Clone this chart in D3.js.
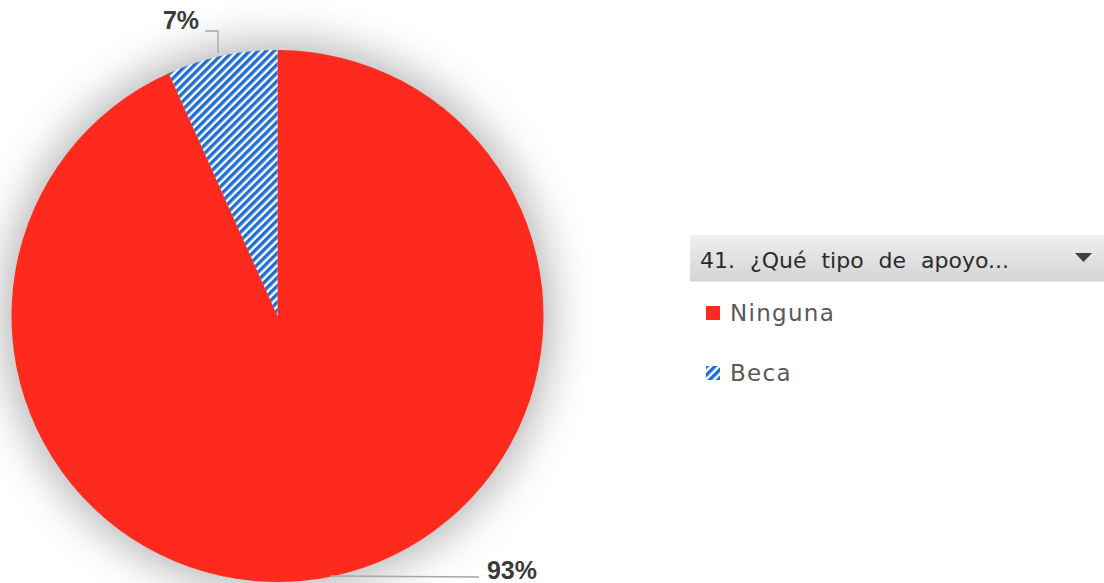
<!DOCTYPE html>
<html><head><meta charset="utf-8">
<script src="https://cdn.jsdelivr.net/npm/d3@7"></script>
<style>body{margin:0;background:#fff}svg{display:block}</style>
</head><body>
<script>
const categories = ["Ninguna", "Beca"];
const values = [93.3, 6.7];
const labels = ["93%", "7%"];
const legendTitle = "41. ¿Qué tipo de apoyo...";

const W = 1104, H = 583;
const svg = d3.select("body").append("svg").attr("width", W).attr("height", H);
const defs = svg.append("defs");

const f = defs.append("filter").attr("id", "glow").attr("x", "-30%").attr("y", "-30%").attr("width", "160%").attr("height", "160%");
f.append("feGaussianBlur").attr("stdDeviation", 20);

const pat = defs.append("pattern").attr("id", "stripes").attr("patternUnits", "userSpaceOnUse")
  .attr("width", 5.8).attr("height", 8).attr("patternTransform", "rotate(45)");
pat.append("rect").attr("width", 5.8).attr("height", 8).attr("fill", "#ffffff");
pat.append("rect").attr("width", 3.4).attr("height", 8).attr("fill", "#1f6fd1");

const cx = 277.5, cy = 316, R = 266;
const g = svg.append("g").attr("transform", `translate(${cx},${cy})`);

g.append("circle").attr("r", R + 10).attr("fill", "#a8a8a8").attr("opacity", 0.8).attr("filter", "url(#glow)");

const pie = d3.pie().sort(null).value(d => d)(values);
const arc = d3.arc().innerRadius(0).outerRadius(R);
const fills = ["#ff2a1e", "url(#stripes)"];
g.selectAll("path.slice").data(pie).join("path").attr("class", "slice")
  .attr("d", arc).attr("fill", (d, i) => fills[i]);

// leader lines & labels
svg.append("polyline").attr("points", "205,31 218,31 218,53").attr("fill", "none").attr("stroke", "#a6a6a6").attr("stroke-width", 1.3);
svg.append("polyline").attr("points", "330,576 479,577").attr("fill", "none").attr("stroke", "#a6a6a6").attr("stroke-width", 1.3);
svg.append("text").attr("x", 181).attr("y", 29).attr("text-anchor", "middle")
  .attr("font-family", "Liberation Sans, Arial, sans-serif").attr("font-weight", "bold").attr("font-size", 25).attr("fill", "#3a3a3a").text(labels[1]);
svg.append("text").attr("x", 512).attr("y", 579).attr("text-anchor", "middle")
  .attr("font-family", "Liberation Sans, Arial, sans-serif").attr("font-weight", "bold").attr("font-size", 25).attr("fill", "#3a3a3a").text(labels[0]);

// legend header
const lg = defs.append("linearGradient").attr("id", "hdr").attr("x1", 0).attr("y1", 0).attr("x2", 0).attr("y2", 1);
lg.append("stop").attr("offset", "0%").attr("stop-color", "#efefef");
lg.append("stop").attr("offset", "100%").attr("stop-color", "#d4d4d4");
svg.append("rect").attr("x", 690).attr("y", 235).attr("width", 414).attr("height", 46).attr("fill", "url(#hdr)");
svg.append("line").attr("x1", 690).attr("x2", 1104).attr("y1", 281.5).attr("y2", 281.5).attr("stroke", "#e8e8e8");
svg.append("text").attr("x", 700).attr("y", 268).attr("font-family", "DejaVu Sans, Verdana, sans-serif")
  .attr("font-size", 22).attr("word-spacing", 8).attr("fill", "#2b2b2b").text(legendTitle);
svg.append("path").attr("d", "M1075,253 L1092,253 L1083.5,262 Z").attr("fill", "#404040");

const legendFills = ["#ff2a1e", "url(#stripes)"];
const ly = d3.scalePoint().domain(categories).range([313, 373]);
const items = svg.selectAll("g.li").data(categories).join("g").attr("class", "li")
  .attr("transform", d => `translate(706,${ly(d)})`);
items.append("rect").attr("x", 0).attr("y", -7).attr("width", 14).attr("height", 14).attr("fill", (d, i) => legendFills[i]);
items.append("text").attr("x", 24).attr("y", 8).attr("font-family", "DejaVu Sans, Verdana, sans-serif")
  .attr("font-size", 23).attr("letter-spacing", 1.3).attr("fill", "#595959").text(d => d);
</script>
</body></html>
